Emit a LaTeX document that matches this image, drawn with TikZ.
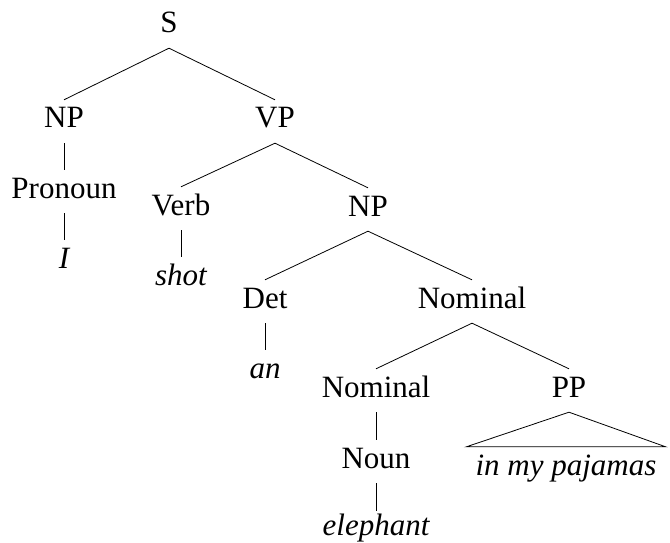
\documentclass[tikz,border=0pt]{standalone}
\usepackage{fontspec}
\setmainfont{Liberation Serif}
\begin{document}
\begin{tikzpicture}[x=1pt,y=-1pt,
  every node/.style={font=\fontsize{31}{37}\selectfont, text height=21pt, text depth=8pt, inner ysep=7pt, inner xsep=2pt, anchor=base},
  word/.style={font=\fontsize{31}{37}\selectfont\itshape},
  edge/.style={draw, line width=0.8pt}]
\useasboundingbox (0,0) rectangle (670,543);
\node (s) at (169,33) {S};
\node (np1) at (64,128) {NP};
\node (vp) at (275,128) {VP};
\node (pron) at (64,198) {Pronoun};
\node[word] (i) at (64,268) {I};
\node (verb) at (181,215) {Verb};
\node[word] (shot) at (181,285) {shot};
\node (np2) at (368,216) {NP};
\node (det) at (265,308) {Det};
\node[word] (an) at (265,378) {an};
\node (nom1) at (472,308) {Nominal};
\node (nom2) at (376,397) {Nominal};
\node (pp) at (569,397) {PP};
\node (noun) at (376,468) {Noun};
\node[word, text height=17pt] (eleph) at (376,535) {elephant};
\node[word, inner xsep=9pt] (pj) at (566,475) {in my pajamas};
\path[edge] (s.south) -- (np1.north);
\path[edge] (s.south) -- (vp.north);
\path[edge] (np1.south) -- (pron.north);
\path[edge] (pron.south) -- (i.north);
\path[edge] (vp.south) -- (verb.north);
\path[edge] (vp.south) -- (np2.north);
\path[edge] (verb.south) -- (shot.north);
\path[edge] (np2.south) -- (det.north);
\path[edge] (np2.south) -- (nom1.north);
\path[edge] (det.south) -- (an.north);
\path[edge] (nom1.south) -- (nom2.north);
\path[edge] (nom1.south) -- (pp.north);
\path[edge] (nom2.south) -- (noun.north);
\path[edge] (noun.south) -- (eleph.north);
\path[edge] (pp.south) -- (pj.north west) -- (pj.north east) -- cycle;
\end{tikzpicture}
\end{document}
